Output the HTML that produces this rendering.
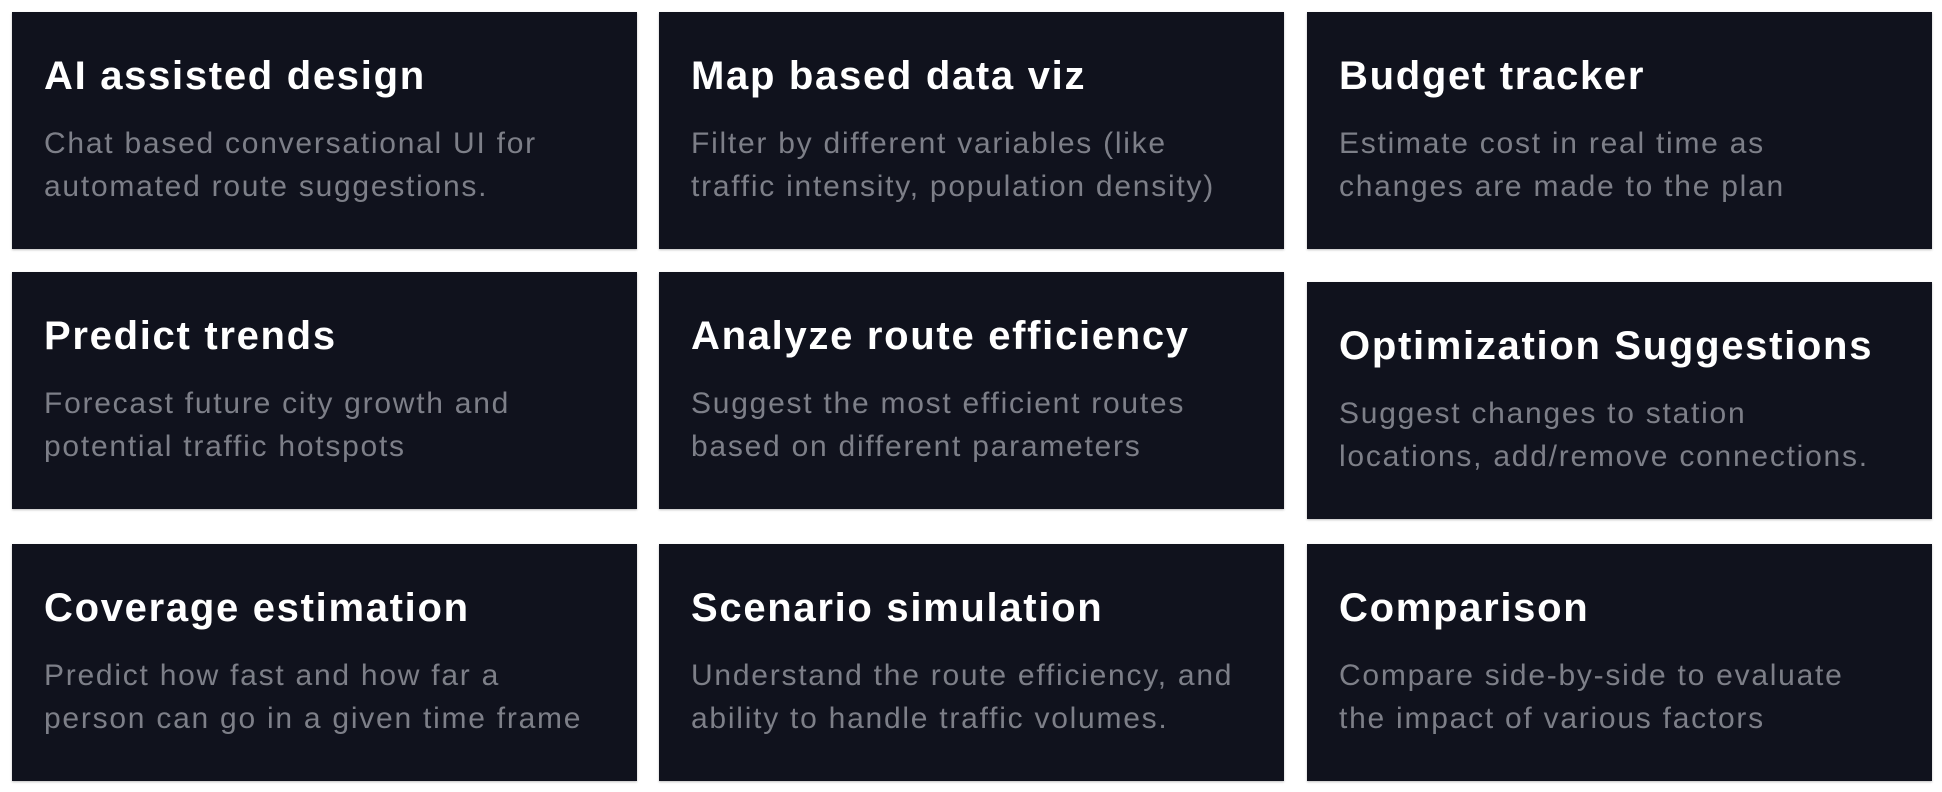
<!DOCTYPE html>
<html><head><meta charset="utf-8"><style>
html,body{margin:0;padding:0;background:#fff;width:1942px;height:792px;overflow:hidden}
.c{position:absolute;width:625px;height:237px;background:#10121d;box-shadow:0 1px 2px rgba(0,0,0,.25);box-sizing:border-box}
.t{position:absolute;left:32px;top:42px;font:bold 40px "Liberation Sans",sans-serif;color:#fff;letter-spacing:1.7px;white-space:nowrap}
.d{position:absolute;left:32px;top:110px;font:30px/43px "Liberation Sans",sans-serif;color:#7d7f88;letter-spacing:1.75px;white-space:nowrap}
</style></head><body>
<div class="c" style="left:12px;top:12px"><div class="t">AI assisted design</div><div class="d">Chat based conversational UI for<br>automated route suggestions.</div></div>
<div class="c" style="left:659px;top:12px"><div class="t">Map based data viz</div><div class="d">Filter by different variables (like<br>traffic intensity, population density)</div></div>
<div class="c" style="left:1307px;top:12px"><div class="t">Budget tracker</div><div class="d">Estimate cost in real time as<br>changes are made to the plan</div></div>
<div class="c" style="left:12px;top:272px"><div class="t">Predict trends</div><div class="d">Forecast future city growth and<br>potential traffic hotspots</div></div>
<div class="c" style="left:659px;top:272px"><div class="t">Analyze route efficiency</div><div class="d">Suggest the most efficient routes<br>based on different parameters</div></div>
<div class="c" style="left:1307px;top:282px"><div class="t">Optimization Suggestions</div><div class="d">Suggest changes to station<br>locations, add/remove connections.</div></div>
<div class="c" style="left:12px;top:544px"><div class="t">Coverage estimation</div><div class="d">Predict how fast and how far a<br>person can go in a given time frame</div></div>
<div class="c" style="left:659px;top:544px"><div class="t">Scenario simulation</div><div class="d">Understand the route efficiency, and<br>ability to handle traffic volumes.</div></div>
<div class="c" style="left:1307px;top:544px"><div class="t">Comparison</div><div class="d">Compare side-by-side to evaluate<br>the impact of various factors</div></div>
</body></html>
